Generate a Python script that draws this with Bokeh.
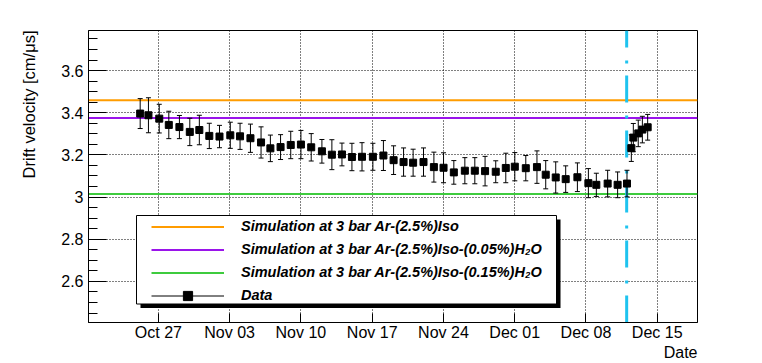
import numpy as np
import pandas as pd
from bokeh.plotting import figure
from bokeh.models import (Range1d, FixedTicker, DatetimeTickFormatter, CustomJSTickFormatter,
                          Legend, LegendItem, Title, BoxAnnotation)
from bokeh.embed import file_html
from bokeh.resources import INLINE

# ---------------- data ----------------
dates = ["2022-10-25 05:00", "2022-10-26 00:30", "2022-10-27 02:00", "2022-10-28 00:30",
         "2022-10-29 01:30", "2022-10-30 02:00", "2022-10-31 00:30", "2022-11-01 00:00",
         "2022-11-02 00:00", "2022-11-03 01:30", "2022-11-04 00:30", "2022-11-05 01:00",
         "2022-11-06 02:00", "2022-11-07 00:00", "2022-11-08 00:00", "2022-11-09 00:00",
         "2022-11-10 00:00", "2022-11-11 00:15", "2022-11-12 01:30", "2022-11-13 01:00",
         "2022-11-14 00:45", "2022-11-15 00:15", "2022-11-16 00:00", "2022-11-17 01:40",
         "2022-11-18 02:30", "2022-11-19 02:30", "2022-11-20 02:00", "2022-11-21 00:30",
         "2022-11-22 01:00", "2022-11-23 01:30", "2022-11-24 00:15", "2022-11-25 00:30",
         "2022-11-26 02:30", "2022-11-27 02:00", "2022-11-28 02:10", "2022-11-29 03:20",
         "2022-11-30 03:00", "2022-12-01 00:15", "2022-12-02 02:10", "2022-12-03 04:30",
         "2022-12-04 01:10", "2022-12-05 00:45", "2022-12-06 00:15", "2022-12-07 03:50",
         "2022-12-08 05:45", "2022-12-09 00:30", "2022-12-10 03:10", "2022-12-11 02:40",
         "2022-12-12 00:45", "2022-12-12 11:00", "2022-12-12 15:40", "2022-12-13 03:20",
         "2022-12-13 13:00", "2022-12-14 01:30"]
drift = [3.396, 3.388, 3.372, 3.342, 3.332, 3.309, 3.318, 3.290, 3.287, 3.293,
         3.288, 3.279, 3.259, 3.231, 3.237, 3.247, 3.249, 3.236, 3.217, 3.201,
         3.202, 3.190, 3.191, 3.191, 3.197, 3.175, 3.166, 3.163, 3.166, 3.142,
         3.139, 3.117, 3.125, 3.125, 3.123, 3.120, 3.138, 3.144, 3.137, 3.142,
         3.106, 3.093, 3.085, 3.094, 3.066, 3.058, 3.064, 3.058, 3.064, 3.232,
         3.282, 3.302, 3.320, 3.331]
drift_err = [0.071, 0.083, 0.068, 0.065, 0.055, 0.065, 0.070, 0.060, 0.053, 0.062,
             0.062, 0.067, 0.074, 0.063, 0.059, 0.065, 0.067, 0.065, 0.056, 0.071,
             0.054, 0.065, 0.067, 0.064, 0.071, 0.068, 0.067, 0.064, 0.067, 0.071,
             0.071, 0.056, 0.062, 0.062, 0.070, 0.052, 0.070, 0.067, 0.060, 0.077,
             0.067, 0.074, 0.063, 0.068, 0.069, 0.055, 0.063, 0.061, 0.063, 0.063,
             0.067, 0.063, 0.063, 0.061]

sim_labels = ["Simulation at 3 bar Ar-(2.5%)Iso",
              "Simulation at 3 bar Ar-(2.5%)Iso-(0.05%)H\u2082O",
              "Simulation at 3 bar Ar-(2.5%)Iso-(0.15%)H\u2082O"]
sim_values = [3.459, 3.375, 3.014]
sim_colors = ["#ff9c00", "#9a14ea", "#3ecb3e"]
data_label = "Data"

change_date = "2022-12-12 00:00"
week_ticks = ["2022-10-27", "2022-11-03", "2022-11-10", "2022-11-17",
              "2022-11-24", "2022-12-01", "2022-12-08", "2022-12-15"]
y_major = [2.6, 2.8, 3.0, 3.2, 3.4, 3.6]
x_start, x_end = "2022-10-20 03:10", "2022-12-18 23:00"
y_start, y_end = 2.405, 3.79

y_title = "Drift velocity [cm/\u03bcs]"
x_title = "Date"

# ---------------- figure ----------------
FONT = "Liberation Sans"
t = pd.to_datetime(dates)
v = np.array(drift)
e = np.array(drift_err)

p = figure(width=762, height=363, x_axis_type="datetime",
           x_range=Range1d(pd.Timestamp(x_start), pd.Timestamp(x_end)),
           y_range=Range1d(y_start, y_end),
           output_backend="svg", toolbar_location=None,
           min_border_left=88, min_border_right=65, min_border_top=30, min_border_bottom=41)
p.background_fill_color = "white"
p.border_fill_color = "white"
p.outline_line_color = "black"
p.outline_line_width = 1

tick_ms = [pd.Timestamp(d).value / 1e6 for d in week_ticks]
p.xaxis.ticker = FixedTicker(ticks=tick_ms, minor_ticks=[])
p.xaxis.formatter = DatetimeTickFormatter(days="%b %d", months="%b %d", hours="%b %d",
                                          years="%b %d", minutes="%b %d")
minor_y = [round(x, 2) for x in np.arange(2.45, 3.78, 0.05)]
p.yaxis.ticker = FixedTicker(ticks=y_major, minor_ticks=minor_y)
p.yaxis.formatter = CustomJSTickFormatter(code="return String(Number(tick.toFixed(2)))")

for ax in (p.xaxis[0], p.yaxis[0]):
    ax.axis_line_color = "black"
    ax.major_tick_line_color = "black"
    ax.minor_tick_line_color = "black"
    ax.major_tick_out = 0
    ax.minor_tick_out = 0
    ax.major_label_text_font = FONT
    ax.major_label_text_font_size = "16px"
    ax.major_label_text_color = "black"
p.xaxis.major_tick_in = 9
p.xaxis.minor_tick_in = 0
p.xaxis.major_label_standoff = 1
p.yaxis.major_tick_in = 18
p.yaxis.minor_tick_in = 9
p.yaxis.major_label_standoff = 5

for g in (p.xgrid[0], p.ygrid[0]):
    g.grid_line_color = "black"
    g.grid_line_dash = "1 2"
    g.grid_line_width = 1

# simulation lines
sim_renderers = []
for val, col in zip(sim_values, sim_colors):
    r = p.line([pd.Timestamp(x_start), pd.Timestamp(x_end)], [val, val],
               line_color=col, line_width=2)
    sim_renderers.append(r)

# change marker line
ct = pd.Timestamp(change_date)
p.segment(x0=[ct], y0=[y_start], x1=[ct], y1=[y_end], line_color="#1fc3ef",
          line_width=3, line_dash="27 12 3 13")

# error bars + markers
seg = p.segment(x0=t, y0=v - e, x1=t, y1=v + e, line_color="black", line_width=1)
p.scatter(t, v + e, marker="dash", size=5, line_color="black", line_width=1)
p.scatter(t, v - e, marker="dash", size=5, line_color="black", line_width=1)
sq = p.scatter(t, v, marker="square", size=7, fill_color="black", line_color="black")

# legend box with shadow
shadow = BoxAnnotation(left=52, right=472, top=103, bottom=14.5,
                       left_units="screen", right_units="screen",
                       top_units="screen", bottom_units="screen",
                       fill_color="black", fill_alpha=1, line_alpha=0)
box = BoxAnnotation(left=48, right=468, top=107, bottom=18.5,
                    left_units="screen", right_units="screen",
                    top_units="screen", bottom_units="screen",
                    fill_color="white", fill_alpha=1, line_color="black",
                    line_width=1, line_alpha=1)
p.add_layout(shadow)
p.add_layout(box)

items = [LegendItem(label=lab, renderers=[r]) for lab, r in zip(sim_labels, sim_renderers)]
items.append(LegendItem(label=data_label, renderers=[seg, sq]))
legend = Legend(items=items, location=(63, 15.5), padding=0, margin=0,
                glyph_width=73, glyph_height=23, label_height=23, spacing=0,
                label_standoff=17, border_line_alpha=0, background_fill_alpha=0,
                label_text_font=FONT, label_text_font_style="bold italic",
                label_text_font_size="14.5px", label_text_color="black")
p.add_layout(legend)

# axis titles (as side-panel titles)
p.add_layout(Title(text=x_title, align="right", vertical_align="top",
                   text_font=FONT, text_font_size="16px", text_font_style="normal",
                   text_color="black", standoff=0, offset=0), "below")
p.add_layout(Title(text=y_title, align="right", vertical_align="top",
                   text_font=FONT, text_font_size="16.5px", text_font_style="normal",
                   text_color="black", standoff=38, offset=0), "left")

open("out.html", "w").write(file_html(p, INLINE))
